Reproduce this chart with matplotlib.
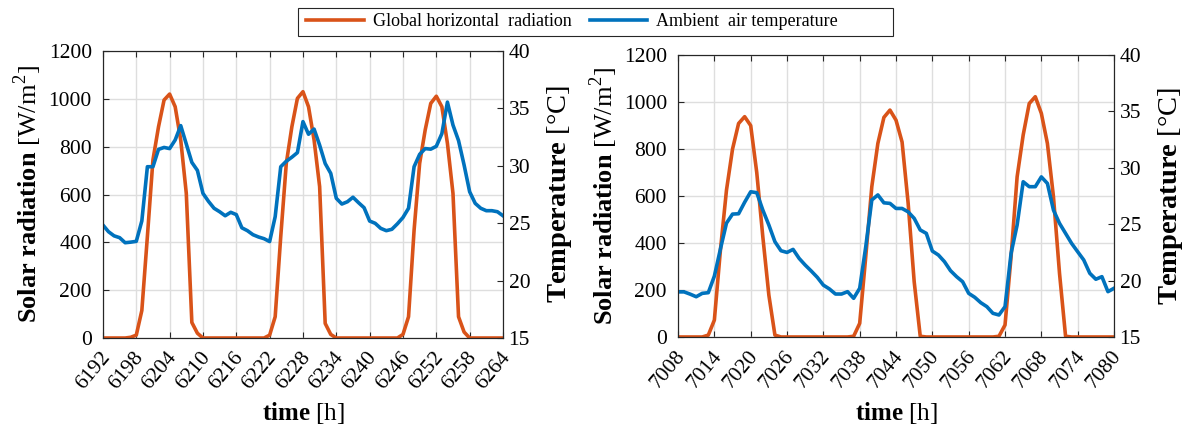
import numpy as np
import matplotlib
matplotlib.use("Agg")
import matplotlib.pyplot as plt
import matplotlib.transforms as mtransforms
from matplotlib.patches import Rectangle

plt.rcParams['font.family'] = ['Liberation Serif', 'DejaVu Serif']
plt.rcParams['mathtext.fontset'] = 'custom'
plt.rcParams['mathtext.rm'] = 'Liberation Serif'
plt.rcParams['mathtext.bf'] = 'Liberation Serif:bold'

# hours (x axis)
hours_a = np.arange(6192, 6265)
hours_b = np.arange(7008, 7081)

# global horizontal radiation [W/m2]
rad_a = [0, 0, 0, 0, 0, 3, 12, 115, 425, 745, 883, 995, 1020, 967, 828, 605, 65, 20,
         0, 0, 0, 0, 0, 0, 0, 0, 0, 0, 0, 0,
         12, 89, 424, 730, 883, 1002, 1030, 967, 828, 633, 61, 15,
         0, 0, 0, 0, 0, 0, 0, 0, 0, 0, 0, 0,
         15, 89, 451, 730, 870, 981, 1011, 967, 814, 605, 89, 25,
         0, 0, 0, 0, 0, 0, 0]
rad_b = [0, 0, 0, 0, 0, 8, 72, 370, 625, 800, 909, 938, 900, 700, 427, 178, 8,
         0, 0, 0, 0, 0, 0, 0, 0, 0, 0, 0, 0,
         3, 58, 342, 640, 824, 935, 966, 923, 830, 570, 235, 3,
         0, 0, 0, 0, 0, 0, 0, 0, 0, 0, 0, 0,
         3, 51, 342, 682, 860, 994, 1023, 952, 824, 597, 271, 3,
         0, 0, 0, 0, 0, 0, 0, 0]

# ambient air temperature [C]
temp_a = [24.84, 24.26, 23.9, 23.74, 23.3, 23.35, 23.42, 25.2, 29.92, 29.92, 31.43, 31.6,
          31.5, 32.25, 33.5, 31.9, 30.3, 29.6, 27.6, 26.9, 26.3, 26.0, 25.65, 25.95,
          25.75, 24.6, 24.35, 24.0, 23.8, 23.65, 23.4, 25.57, 29.92, 30.4, 30.75, 31.15,
          33.85, 32.75, 33.2, 31.8, 30.2, 29.34, 27.17, 26.67, 26.87, 27.26, 26.79, 26.35,
          25.19, 24.99, 24.55, 24.35, 24.47, 24.95, 25.5, 26.3, 29.92, 31.0, 31.5, 31.45,
          31.7, 32.8, 35.55, 33.55, 32.2, 30.07, 27.74, 26.73, 26.3, 26.09, 26.09, 26.0,
          25.65]
temp_b = [19.0, 19.0, 18.8, 18.57, 18.87, 18.93, 20.4, 22.8, 25.1, 25.9, 25.93, 26.95,
          27.88, 27.8, 26.26, 24.93, 23.45, 22.65, 22.5, 22.77, 21.97, 21.38, 20.85, 20.29,
          19.6, 19.26, 18.81, 18.81, 19.02, 18.43, 19.32, 23.0, 27.15, 27.6, 26.9, 26.85,
          26.4, 26.4, 26.1, 25.52, 24.49, 24.19, 22.62, 22.27, 21.68, 20.88, 20.35, 19.9,
          18.87, 18.52, 18.04, 17.69, 17.1, 16.95, 17.69, 22.42, 24.93, 28.77, 28.33, 28.33,
          29.2, 28.62, 26.26, 25.08, 24.19, 23.3, 22.56, 21.83, 20.65, 20.12, 20.35, 19.02,
          19.32]

orange = '#D95319'
blue = '#0072BD'
tick_fs = 15.5

fig = plt.figure(figsize=(11.86, 4.29), dpi=100)
ax1 = fig.add_axes([0.0868, 0.2121, 0.3373, 0.669])
ax2 = fig.add_axes([0.5717, 0.2145, 0.3676, 0.657])

# rotated x tick labels sit a little right of / below the tick like the original
shift = mtransforms.ScaledTranslation(4 / 100, -16 / 100, fig.dpi_scale_trans)

for ax, hrs, rad, temp, ylab in [(ax1, hours_a, rad_a, temp_a, -0.216),
                                 (ax2, hours_b, rad_b, temp_b, -0.223)]:
    l1, = ax.plot(hrs, rad, color=orange, lw=2.6, label='Global horizontal  radiation')
    ax.set_xlim(hrs[0], hrs[-1])
    ax.set_ylim(0, 1200)
    ax.set_yticks(range(0, 1201, 200))
    ax.set_xticks(hrs[::6])
    ax.set_xticklabels([])
    for h in hrs[::6]:
        ax.text(h, 0, str(h), transform=ax.get_xaxis_transform() + shift,
                rotation=50, ha='right', va='center', rotation_mode='anchor',
                fontsize=tick_fs)
    ax.grid(True, color='#dedede', lw=1.0)
    ax.set_axisbelow(True)
    ax.tick_params(direction='in', top=True, right=False, length=4,
                   labelsize=tick_fs, pad=8, colors='#262626', labelcolor='black')
    ax.set_ylabel(r'$\mathbf{Solar}$ $\mathbf{radiation}$ [W/m$^2$]', fontsize=19, labelpad=3)
    ax.set_xlabel(r'$\mathbf{time}$ [h]', fontsize=18)
    ax.xaxis.set_label_coords(0.5, ylab)

    tw = ax.twinx()
    l2, = tw.plot(hrs, temp, color=blue, lw=2.6, label='Ambient  air temperature')
    tw.set_ylim(15, 40)
    tw.set_yticks(range(15, 41, 5))
    tw.tick_params(direction='in', length=4, labelsize=tick_fs, pad=4,
                   colors='#262626', labelcolor='black')
    tw.set_ylabel(r'$\mathbf{Temperature}$ [°C]', fontsize=20.5, labelpad=11)
    for t in (ax, tw):
        for s in t.spines.values():
            s.set_color('#262626')
            s.set_linewidth(0.8)

# legend box drawn separately (the original has extra room on the right)
fig.patches.append(Rectangle((298 / 1186, 1 - 36 / 429), 595 / 1186, 28 / 429,
                             transform=fig.transFigure, fill=False,
                             edgecolor='#262626', lw=0.8))
fig.legend(handles=[l1, l2], loc='center left', bbox_to_anchor=(306 / 1186, 1 - 22 / 429),
           ncol=2, fontsize=13, frameon=False, borderpad=0, borderaxespad=0,
           handlelength=3.2, handletextpad=0.5, columnspacing=1.0)

fig.savefig('out.png', dpi=100)
